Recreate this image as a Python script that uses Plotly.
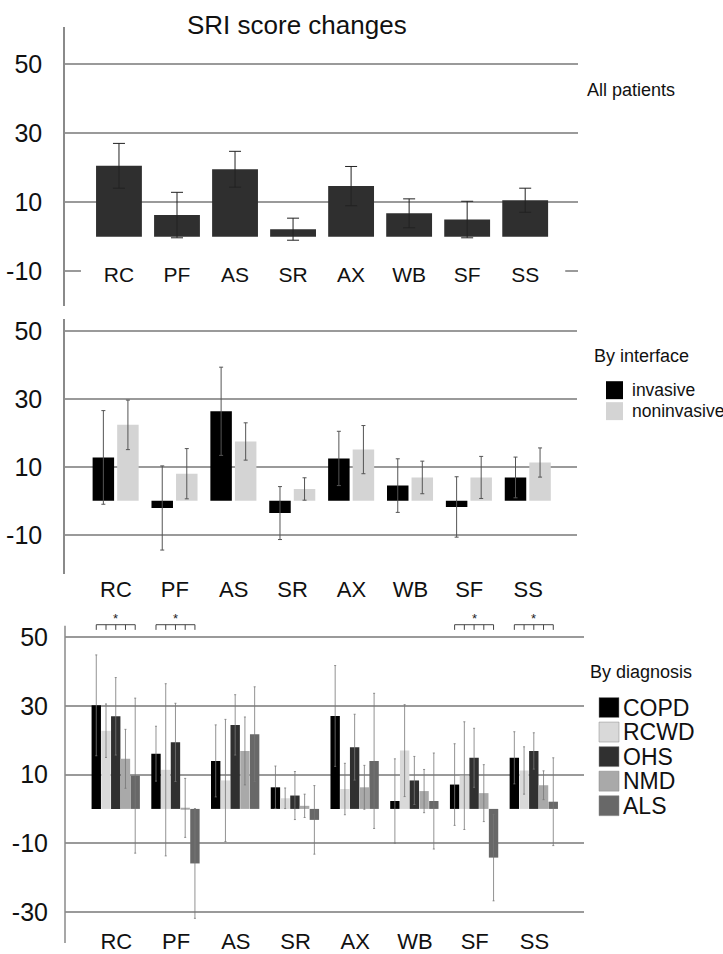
import plotly.graph_objects as go

# ---------------- data ----------------
cats = ["RC", "PF", "AS", "SR", "AX", "WB", "SF", "SS"]

all_mean = [20.6, 6.3, 19.6, 2.2, 14.7, 6.8, 5.0, 10.6]
all_err = [6.5, 6.6, 5.2, 3.2, 5.7, 4.2, 5.3, 3.5]

iface_names = ["invasive", "noninvasive"]
inv_mean = [12.8, -2.1, 26.4, -3.6, 12.5, 4.5, -1.8, 6.9]
inv_err = [13.8, 12.4, 13.0, 7.8, 8.0, 7.9, 8.9, 6.0]
non_mean = [22.4, 8.0, 17.5, 3.5, 15.1, 6.9, 6.9, 11.3]
non_err = [7.3, 7.4, 5.5, 3.3, 7.1, 4.8, 6.2, 4.3]

diag_names = ["COPD", "RCWD", "OHS", "NMD", "ALS"]
copd_mean = [30.2, 16.1, 14.0, 6.3, 27.1, 2.3, 7.1, 14.9]
copd_err = [14.7, 8.0, 10.5, 6.2, 14.7, 12.3, 11.9, 7.6]
rcwd_mean = [22.8, 11.4, 8.3, 3.1, 5.8, 17.0, 9.7, 11.2]
rcwd_err = [7.8, 25.1, 17.8, 3.0, 7.5, 13.4, 15.7, 6.9]
ohs_mean = [27.0, 19.4, 24.5, 3.9, 18.0, 8.3, 14.9, 16.9]
ohs_err = [11.3, 11.4, 8.8, 7.0, 9.6, 7.0, 8.6, 5.3]
nmd_mean = [14.6, 0.3, 16.9, 0.9, 6.3, 5.2, 4.6, 6.9]
nmd_err = [8.6, 8.6, 9.9, 3.4, 6.4, 6.3, 8.3, 4.2]
als_mean = [9.7, -15.9, 21.8, -3.2, 14.0, 2.3, -14.2, 2.1]
als_err = [22.6, 16.0, 13.8, 10.0, 19.7, 14.0, 12.6, 12.8]

sig_cats = ["RC", "PF", "SF", "SS"]

ytick_top = [-10, 10, 30, 50]
ytick_bottom = [-30, -10, 10, 30, 50]

# ---------------- styling ----------------
W, H = 723, 954
FONT = "Arial, Liberation Sans, sans-serif"
GRID = "#9a9a9a"
AXLINE = "#8a8a8a"

idx = list(range(len(cats)))


def py(px):
    return 1 - px / H


def pxx(px):
    return px / W


fig = go.Figure()

# ---- Panel 1: all patients ----
fig.add_trace(go.Bar(
    x=idx, y=all_mean, width=0.79, marker=dict(color="#2f2f2f", line=dict(width=0)),
    error_y=dict(type="data", array=all_err, color="#222222", thickness=1, width=6),
    xaxis="x", yaxis="y", showlegend=False))

# ---- Panel 2: by interface ----
iface_colors = ["#000000", "#d4d4d4"]
iface_means = [inv_mean, non_mean]
iface_errs = [inv_err, non_err]
iface_offsets = [-0.397, 0.02]
for i, nm in enumerate(iface_names):
    fig.add_trace(go.Bar(
        x=idx, y=iface_means[i], name=nm, width=0.365, offset=iface_offsets[i],
        marker=dict(color=iface_colors[i], line=dict(width=0)),
        error_y=dict(type="data", array=iface_errs[i], color="#555555", thickness=1, width=2),
        xaxis="x2", yaxis="y2", showlegend=False))

# ---- Panel 3: by diagnosis ----
diag_colors = ["#000000", "#d9d9d9", "#303030", "#a9a9a9", "#686868"]
diag_means = [copd_mean, rcwd_mean, ohs_mean, nmd_mean, als_mean]
diag_errs = [copd_err, rcwd_err, ohs_err, nmd_err, als_err]
d_start, d_step, d_w = -0.415, 0.163, 0.157
for k, nm in enumerate(diag_names):
    fig.add_trace(go.Bar(
        x=idx, y=diag_means[k], name=nm, width=d_w, offset=d_start + k * d_step,
        marker=dict(color=diag_colors[k], line=dict(width=0)),
        error_y=dict(type="data", array=diag_errs[k], color="#777777", thickness=0.8, width=1),
        xaxis="x3", yaxis="y3", showlegend=False))

# significance brackets
bx, by = [], []
y_line, y_tick = 53.7, 52.2
for c in sig_cats:
    ci = cats.index(c)
    centers = [ci + d_start + k * d_step + d_w / 2 for k in range(len(diag_names))]
    bx += [centers[0], centers[-1], None]
    by += [y_line, y_line, None]
    for cx in centers:
        bx += [cx, cx, None]
        by += [y_line, y_tick, None]
    fig.add_annotation(x=(centers[0] + centers[-1]) / 2, y=55.4, xref="x3", yref="y3",
                       text="*", showarrow=False, yanchor="middle",
                       font=dict(size=13, color="#222", family=FONT))
fig.add_trace(go.Scatter(x=bx, y=by, mode="lines", line=dict(color="#444444", width=1),
                         xaxis="x3", yaxis="y3", showlegend=False, hoverinfo="skip"))

# ---------------- axes ----------------
ycommon = dict(showgrid=True, gridcolor=GRID, gridwidth=1.5, zeroline=False,
               tickfont=dict(size=25, color="#111", family=FONT), ticks="",
               ticklabelstandoff=16, fixedrange=True)
xcommon = dict(tickvals=idx, ticktext=cats, showgrid=False, zeroline=False,
               showline=False, ticks="", fixedrange=True)

fig.update_layout(
    width=W, height=H, margin=dict(l=0, r=0, t=0, b=0),
    paper_bgcolor="white", plot_bgcolor="white", barmode="group",
    font=dict(family=FONT, color="#111"),
    xaxis=dict(domain=[pxx(65), pxx(578)], range=[-0.93, 7.91], anchor="free",
               position=py(259), tickfont=dict(size=21, family=FONT), **xcommon),
    yaxis=dict(domain=[py(305), py(25)], range=[-20.2, 60.9], tickvals=ytick_top,
               ticktext=[str(v) for v in ytick_top],
               showline=True, linecolor=AXLINE, linewidth=1.5, anchor="x", **ycommon),
    xaxis2=dict(domain=[pxx(65), pxx(577)], range=[-0.866, 7.83], anchor="y2",
                tickfont=dict(size=22, family=FONT), **xcommon),
    yaxis2=dict(domain=[py(573), py(318)], range=[-21.5, 53.5], tickvals=ytick_top,
                ticktext=[str(v) for v in ytick_top],
                showline=True, linecolor=AXLINE, linewidth=1.5, anchor="x2", **ycommon),
    xaxis3=dict(domain=[pxx(65), pxx(584)], range=[-0.86, 7.83], anchor="free",
                position=py(926), tickfont=dict(size=22, family=FONT), **xcommon),
    yaxis3=dict(domain=[py(943), py(612)], range=[-39.1, 57.2], tickvals=ytick_bottom,
                ticktext=[str(v) for v in ytick_bottom],
                showline=False, anchor="x3", **ycommon),
)

# left axis line of panel 3 (starts below the significance brackets)
fig.add_shape(type="line", xref="paper", yref="paper", x0=pxx(65), x1=pxx(65),
              y0=py(943), y1=py(625), line=dict(color=AXLINE, width=1.5))

# hide -10 grid line behind category labels in panel 1
fig.add_shape(type="rect", xref="x", yref="y", x0=-0.655, x1=7.69, y0=-12, y1=-8,
              fillcolor="white", line=dict(width=0), layer="between")

# ---------------- titles / legends ----------------
fig.add_annotation(x=pxx(297), y=py(23), xref="paper", yref="paper", text="SRI score changes",
                   showarrow=False, yanchor="middle",
                   font=dict(size=26, color="#111", family=FONT))
fig.add_annotation(x=pxx(585), y=py(88), xref="paper", yref="paper", text="All patients",
                   xanchor="left", yanchor="middle", showarrow=False,
                   font=dict(size=18, color="#111", family=FONT))

# legend panel 2
fig.add_annotation(x=pxx(592), y=py(355), xref="paper", yref="paper", text="By interface",
                   xanchor="left", yanchor="middle", showarrow=False,
                   font=dict(size=18, color="#111", family=FONT))
for i, nm in enumerate(iface_names):
    yc = 389 + 21 * i
    fig.add_shape(type="rect", xref="paper", yref="paper", x0=pxx(606), x1=pxx(623),
                  y0=py(yc + 9), y1=py(yc - 9), fillcolor=iface_colors[i], line=dict(width=0))
    fig.add_annotation(x=pxx(630), y=py(yc), xref="paper", yref="paper", text=nm,
                       xanchor="left", yanchor="middle", showarrow=False,
                       font=dict(size=17.5, color="#111", family=FONT))

# legend panel 3
fig.add_annotation(x=pxx(588), y=py(671), xref="paper", yref="paper", text="By diagnosis",
                   xanchor="left", yanchor="middle", showarrow=False,
                   font=dict(size=18, color="#111", family=FONT))
for k, nm in enumerate(diag_names):
    yc = 707 + 24.6 * k
    fig.add_shape(type="rect", xref="paper", yref="paper", x0=pxx(599), x1=pxx(619),
                  y0=py(yc + 10), y1=py(yc - 10), fillcolor=diag_colors[k],
                  line=dict(color="#888888", width=0.5))
    fig.add_annotation(x=pxx(621), y=py(yc), xref="paper", yref="paper", text=nm,
                       xanchor="left", yanchor="middle", showarrow=False,
                       font=dict(size=23, color="#111", family=FONT))

fig.write_html("out.html")
